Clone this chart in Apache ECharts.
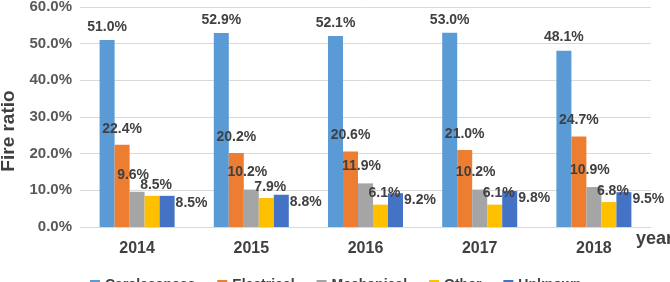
<!DOCTYPE html>
<html>
<head>
<meta charset="utf-8">
<script src="https://cdn.jsdelivr.net/npm/echarts@6/dist/echarts.min.js"></script>
<style>
  html, body { margin: 0; padding: 0; background: #fff; }
  #chart { width: 670px; height: 282px; }
</style>
</head>
<body>
<div id="chart"></div>
<script>
var years = ['2014', '2015', '2016', '2017', '2018']
var carelessness = [51.0, 52.9, 52.1, 53.0, 48.1]
var electrical = [22.4, 20.2, 20.6, 21.0, 24.7]
var mechanical = [9.6, 10.2, 11.9, 10.2, 10.9]
var other = [8.5, 7.9, 6.1, 6.1, 6.8]
var unknown = [8.5, 8.8, 9.2, 9.8, 9.5]

var font = 'Liberation Sans, Arial, sans-serif'
var textColor = '#404040'

function pct(p) {
  return p.value.toFixed(1) + '%'
}

function makeSeries(name, data, color, label) {
  return {
    name: name,
    type: 'bar',
    data: data,
    barWidth: 15,
    barGap: 0,
    itemStyle: { color: color },
    label: Object.assign({
      show: true,
      formatter: pct,
      color: textColor,
      fontFamily: font,
      fontWeight: 'bold',
      fontSize: 14
    }, label)
  }
}

var chart = echarts.init(document.getElementById('chart'))
chart.setOption({
  animation: false,
  grid: { left: 80, right: 19, top: 7, bottom: 55, outerBoundsMode: 'none' },
  legend: {
    left: 85,
    top: 273,
    itemWidth: 10,
    itemHeight: 10,
    itemGap: 22,
    icon: 'rect',
    textStyle: { color: textColor, fontFamily: font, fontWeight: 'bold', fontSize: 14 }
  },
  xAxis: {
    type: 'category',
    data: years,
    name: 'year',
    nameLocation: 'end',
    nameGap: -15,
    nameTextStyle: {
      color: textColor, fontFamily: font, fontWeight: 'bold', fontSize: 18,
      verticalAlign: 'top', padding: [3, 0, 0, 0]
    },
    axisLine: { lineStyle: { color: '#D9D9D9' } },
    axisTick: { show: false },
    axisLabel: { color: textColor, fontFamily: font, fontWeight: 'bold', fontSize: 16, margin: 14 }
  },
  yAxis: {
    type: 'value',
    min: 0,
    max: 60,
    interval: 10,
    name: 'Fire ratio',
    nameLocation: 'middle',
    nameRotate: 90,
    nameGap: 59,
    nameTextStyle: {
      color: textColor, fontFamily: font, fontWeight: 'bold', fontSize: 19,
      padding: [0, 28, 0, 0]
    },
    axisLine: { show: false },
    axisTick: { show: false },
    splitLine: { lineStyle: { color: '#D9D9D9' } },
    axisLabel: {
      color: '#595959', fontFamily: font, fontWeight: 'bold', fontSize: 15, margin: 8,
      formatter: function (v) { return v.toFixed(1) + '%' }
    }
  },
  series: [
    makeSeries('Carelessness', carelessness, '#5B9BD5', { position: 'top', distance: 6 }),
    makeSeries('Electrical', electrical, '#ED7D31', { position: 'top', distance: 9 }),
    makeSeries('Mechanical', mechanical, '#A5A5A5', { position: 'top', distance: 10, offset: [-4, 0] }),
    makeSeries('Other', other, '#FFC000', { position: 'top', distance: 4, offset: [4, 0] }),
    makeSeries('Unknown', unknown, '#4472C4', { position: ['100%', 0], offset: [1, 0] })
  ]
})
</script>
</body>
</html>
